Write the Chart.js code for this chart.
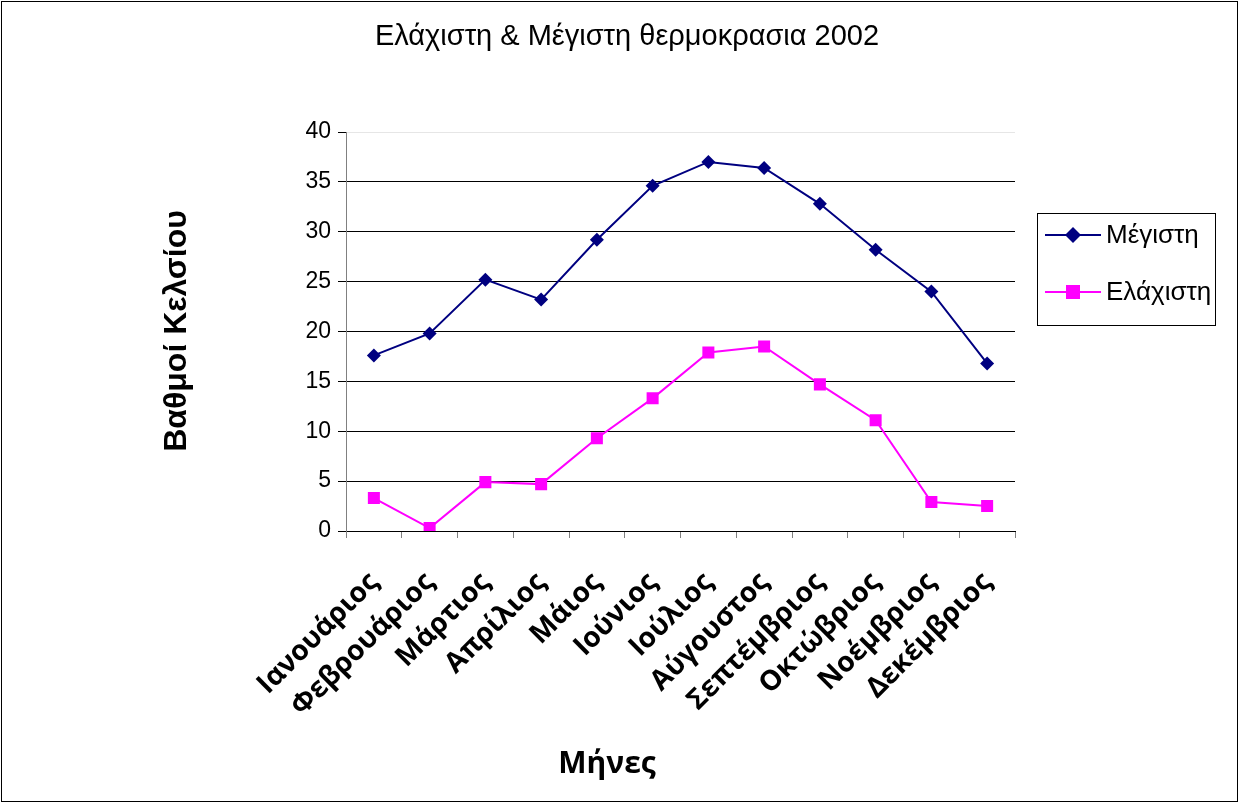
<!DOCTYPE html>
<html>
<head>
<meta charset="utf-8">
<script src="https://cdn.jsdelivr.net/npm/chart.js@4"></script>
<style>
html,body{margin:0;padding:0;background:#fff;}
#wrap{width:1239px;height:804px;position:relative;}
</style>
</head>
<body>
<div id="wrap"><canvas id="c" width="1239" height="804"></canvas></div>
<script>
const months = ["Ιανουάριος","Φεβρουάριος","Μάρτιος","Απρίλιος","Μάιος","Ιούνιος","Ιούλιος","Αύγουστος","Σεπτέμβριος","Οκτώβριος","Νοέμβριος","Δεκέμβριος"];
const maxTemp = [17.6,19.8,25.2,23.2,29.2,34.6,37.0,36.4,32.8,28.2,24.0,16.8];
const minTemp = [3.3,0.3,4.9,4.7,9.3,13.3,17.9,18.5,14.7,11.1,2.9,2.5];
const yTicks = [0,5,10,15,20,25,30,35,40];
const titleText = "Ελάχιστη & Μέγιστη θερμοκρασια 2002";
const yTitle = "Βαθμοί Κελσίου";
const xTitle = "Μήνες";
const seriesNames = ["Μέγιστη","Ελάχιστη"];

const NAVY = "#000080", MAG = "#FF00FF";

const decor = {
  id: 'decor',
  afterDraw(chart) {
    const ctx = chart.ctx;
    ctx.save();
    // outer border
    ctx.strokeStyle = '#000';
    ctx.lineWidth = 1;
    ctx.strokeRect(1.5, 1.5, 1236, 800);
    // title
    ctx.fillStyle = '#000';
    ctx.textAlign = 'center';
    ctx.textBaseline = 'middle';
    ctx.font = '29px "Liberation Sans", Arial, sans-serif';
    ctx.fillText(titleText, 627, 37);
    // x title
    ctx.font = 'bold 30px "Open Sans", sans-serif';
    ctx.fillText(xTitle, 607, 764);
    // y title
    ctx.save();
    ctx.translate(177, 331);
    ctx.rotate(-Math.PI/2);
    ctx.font = 'bold 32px "Liberation Sans", Arial, sans-serif';
    ctx.fillText(yTitle, 0, 0);
    ctx.restore();
    // legend
    ctx.strokeStyle = '#000';
    ctx.strokeRect(1037.5, 213.5, 178, 112);
    const rows = [{y:235,c:NAVY,s:'d',t:seriesNames[0]},{y:292,c:MAG,s:'s',t:seriesNames[1]}];
    ctx.textAlign = 'left';
    ctx.font = '26px "Liberation Sans", Arial, sans-serif';
    rows.forEach(r => {
      ctx.strokeStyle = r.c; ctx.lineWidth = 2;
      ctx.beginPath(); ctx.moveTo(1045, r.y); ctx.lineTo(1101, r.y); ctx.stroke();
      ctx.fillStyle = r.c;
      ctx.beginPath();
      if (r.s === 'd') {
        ctx.moveTo(1073-8, r.y); ctx.lineTo(1073, r.y-8); ctx.lineTo(1073+8, r.y); ctx.lineTo(1073, r.y+8); ctx.closePath();
      } else {
        ctx.rect(1073-7, r.y-7, 14, 14);
      }
      ctx.fill();
      ctx.fillStyle = '#000';
      ctx.fillText(r.t, 1106, r.y+1);
    });
    ctx.restore();
  }
};

new Chart(document.getElementById('c'), {
  type: 'line',
  data: {
    labels: months,
    datasets: [
      {label: seriesNames[0], data: maxTemp, borderColor: NAVY, backgroundColor: NAVY, borderWidth: 2,
       pointStyle: 'rectRot', pointRadius: 7, pointBorderWidth: 0, tension: 0},
      {label: seriesNames[1], data: minTemp, borderColor: MAG, backgroundColor: MAG, borderWidth: 2,
       pointStyle: 'rect', pointRadius: 8.5, pointBorderWidth: 0, tension: 0}
    ]
  },
  options: {
    responsive: false,
    animation: false,
    devicePixelRatio: 1,
    layout: {padding: {left: 0, top: 132, right: 224, bottom: 0}},
    plugins: {legend: {display: false}, title: {display: false}, tooltip: {enabled: false}},
    scales: {
      x: {
        offset: true,
        afterFit(s) { s.height = 273; },
        border: {color: '#000', width: 1},
        grid: {offset: true, drawOnChartArea: false, drawTicks: true, tickLength: 7, color: '#808080'},
        ticks: {autoSkip: false, minRotation: 45, maxRotation: 45, padding: 28, color: '#000',
                font: {family: '"Open Sans", sans-serif', weight: 'bold', size: 28}}
      },
      y: {
        min: 0, max: 40,
        afterFit(s) { s.width = 346; },
        afterBuildTicks(s) { s.ticks = yTicks.map(v => ({value: v})); },
        border: {color: '#808080', width: 1},
        grid: {color: ctx => (ctx.tick && ctx.tick.value === 40) ? '#e6e6e6' : '#000', tickColor: '#000', tickLength: 8, drawTicks: true},
        ticks: {padding: 7, color: '#000', font: {family: '"Liberation Sans", Arial, sans-serif', size: 23}}
      }
    }
  },
  plugins: [decor]
});
</script>
</body>
</html>
